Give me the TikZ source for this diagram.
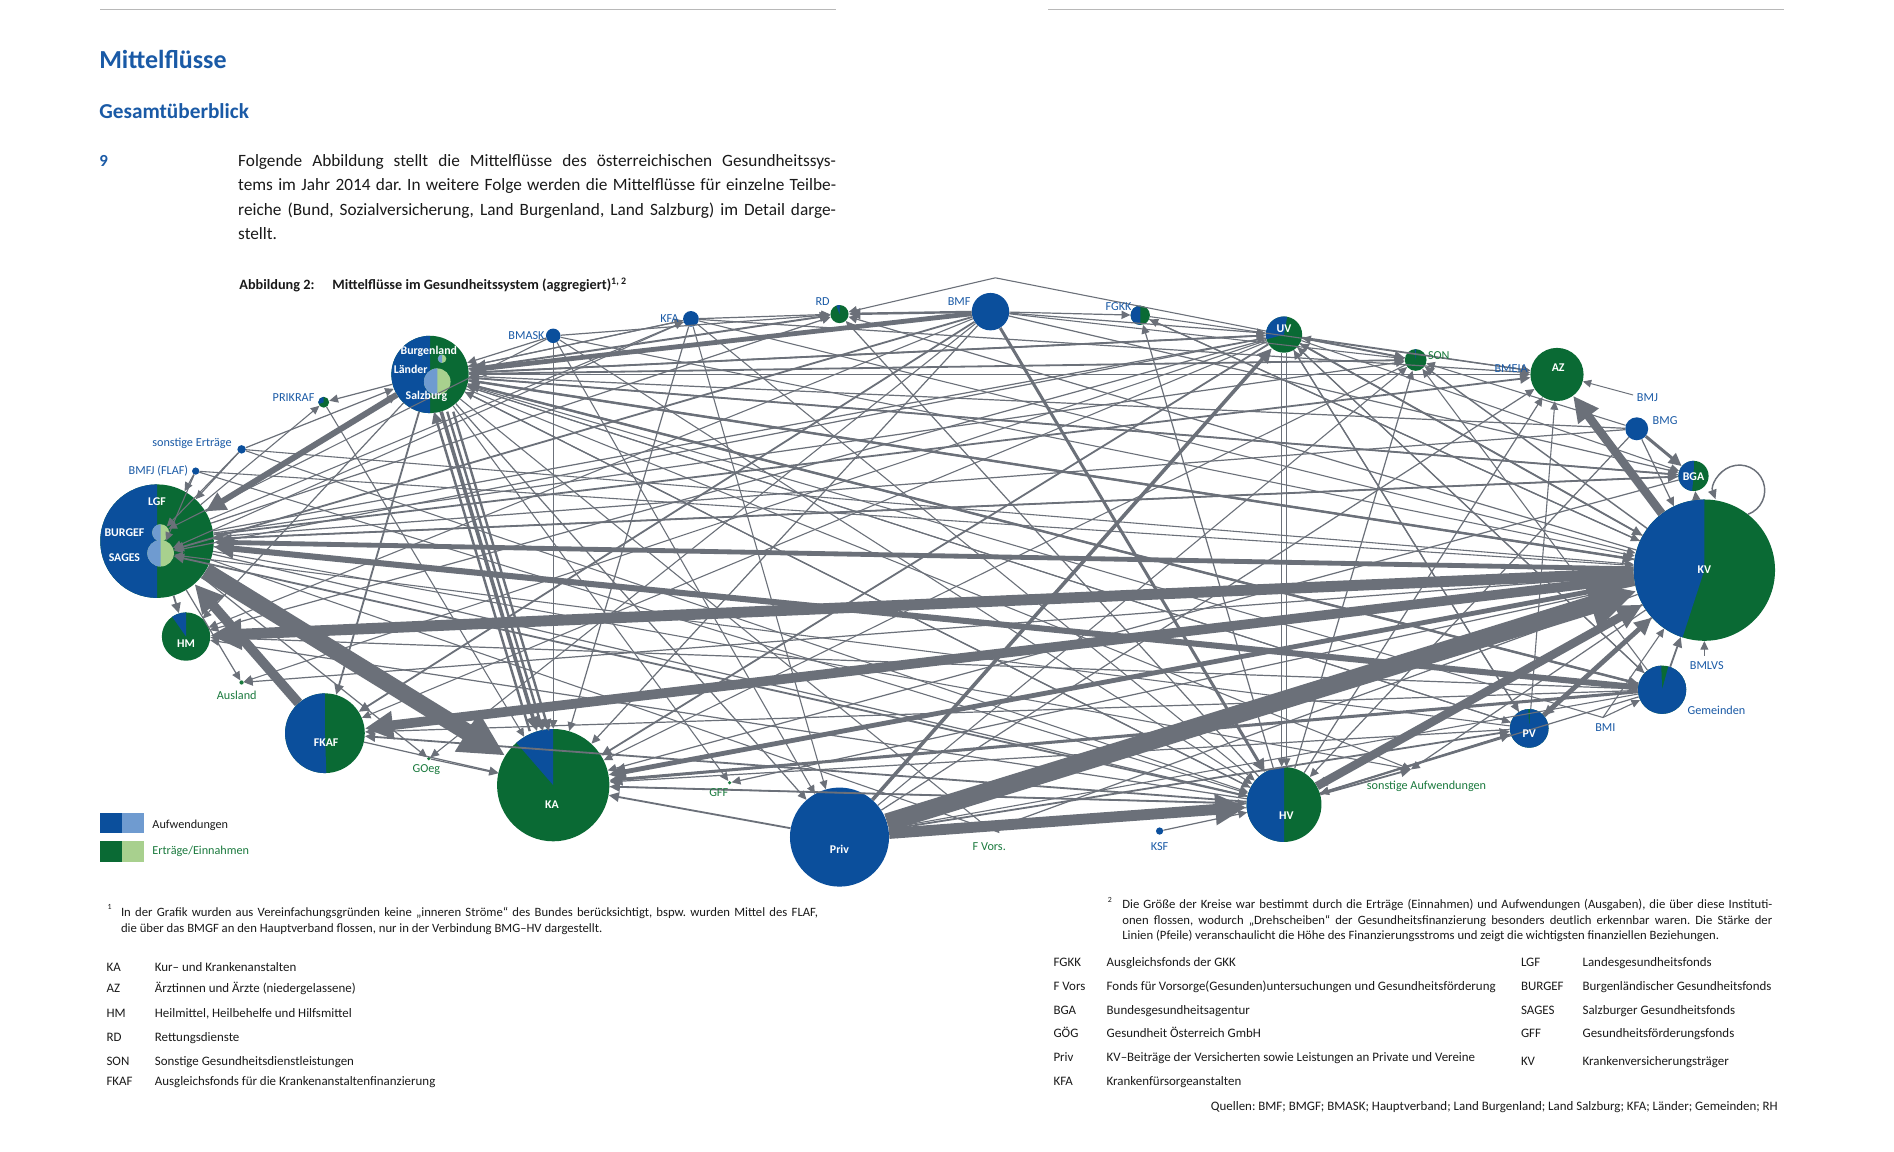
\documentclass[tikz,border=0pt]{standalone}
\usepackage{fontspec}
\setmainfont{Carlito}
\usetikzlibrary{arrows.meta}
\definecolor{bl}{HTML}{0B4F9C}
\definecolor{gn}{HTML}{0A6A34}
\definecolor{lbl}{HTML}{6F9BD0}
\definecolor{lgn}{HTML}{A8D08E}
\definecolor{eg}{HTML}{6B7079}
\definecolor{tbl}{HTML}{1A5AA6}
\definecolor{tgn}{HTML}{1B7A3E}
\definecolor{rulec}{HTML}{B8B8B8}
\definecolor{txt}{HTML}{1A1A1A}
\newcommand\myfs[2]{\fontsize{#1}{#2}\selectfont}
\tikzset{
  pie/.style n args={3}{circle, inner sep=0pt, minimum size=#1, fill=gn,
    path picture={\fill[bl] (path picture bounding box.center) -- ++(#2:#1) arc[start angle=#2, end angle=#3, radius=#1] -- cycle;}},
  lpie/.style n args={3}{circle, inner sep=0pt, minimum size=#1, fill=lgn,
    path picture={\fill[lbl] (path picture bounding box.center) -- ++(#2:#1) arc[start angle=#2, end angle=#3, radius=#1] -- cycle;}},
  bdot/.style={circle, inner sep=0pt, minimum size=#1, fill=bl},
  gdot/.style={circle, inner sep=0pt, minimum size=#1, fill=tgn},
  gfull/.style={circle, inner sep=0pt, minimum size=#1, fill=gn},
  lab/.style={inner sep=0pt, text=tbl, font=\myfs{10.1}{12}},
  glab/.style={inner sep=0pt, text=tgn, font=\myfs{10.1}{12}},
  wlab/.style={inner sep=0pt, text=white, font=\bfseries\myfs{9.8}{11}},
  fl/.style={draw=eg, line width=#1, -{Triangle[length=5pt 2.3, width=4.5pt 2.2]}},
  tx/.style={inner sep=0pt, anchor=base west, text=txt, font=\myfs{10.7}{12}},
  ftx/.style={inner sep=0pt, anchor=base west, text=txt, font=\myfs{10.5}{12}},
  para/.style={inner sep=0pt, anchor=base west, text=txt, font=\myfs{14.3}{20}}
}
\begin{document}
\frenchspacing
\begin{tikzpicture}[x=1pt,y=1pt]
\useasboundingbox (0,0) rectangle (1568,-953.7);
\fill[white] (0,0) rectangle (1568,-953.7);

% ---------- header ----------
\draw[rulec, line width=1pt] (83,-8) -- (692,-8);
\draw[rulec, line width=1pt] (868,-8) -- (1477,-8);
\node[inner sep=0pt, anchor=base west, text=tbl, font=\bfseries\myfs{21.5}{25}] at (82,-57) {Mittelflüsse};
\node[inner sep=0pt, anchor=base west, text=tbl, font=\bfseries\myfs{17.6}{21}] at (82,-98) {Gesamtüberblick};
\node[inner sep=0pt, anchor=base west, text=tbl, font=\bfseries\myfs{14}{20}] at (82,-138) {9};
\node[para] at (197,-138) {\makebox[495pt][s]{Folgende Abbildung stellt die Mittelflüsse des österreichischen Gesundheitssys-}};
\node[para] at (197,-158) {\makebox[495pt][s]{tems im Jahr 2014 dar. In weitere Folge werden die Mittelflüsse für einzelne Teilbe-}};
\node[para] at (197,-178) {\makebox[495pt][s]{reiche (Bund, Sozialversicherung, Land Burgenland, Land Salzburg) im Detail darge-}};
\node[para] at (197,-198) {stellt.};
\node[inner sep=0pt, anchor=base west, text=txt, font=\bfseries\myfs{11.8}{13}] at (198,-240) {Abbildung 2:};
\node[inner sep=0pt, anchor=base west, text=txt, font=\bfseries\myfs{11.8}{13}] at (275,-240) {Mittelflüsse im Gesundheitssystem (aggregiert)\textsuperscript{1, 2}};

% ---------- nodes ----------
\node[pie={64pt}{90}{270}] (L) at (356,-310) {};
\node[lpie={22pt}{90}{270}] (SBG) at (362,-316) {};
\node[lpie={7pt}{90}{270}] (BGL) at (366,-297) {};
\node[pie={94pt}{90}{270}] (LGF) at (130,-448) {};
\node[lpie={14pt}{90}{270}] (BUR) at (133,-441) {};
\node[lpie={22pt}{90}{270}] (SAG) at (133,-458) {};
\node[pie={40pt}{90}{125}] (HM) at (154,-527) {};
\node[pie={66pt}{90}{272}] (FKAF) at (269,-607) {};
\node[pie={93pt}{90}{131}] (KA) at (458,-650) {};
\node[bdot=82pt] (Priv) at (695,-693) {};
\node[pie={62pt}{90}{270}] (HV) at (1063,-666) {};
\node[pie={32pt}{93}{447}] (PV) at (1266,-603) {};
\node[pie={40pt}{92}{435}] (Gem) at (1376,-571) {};
\node[pie={117pt}{90}{252}] (KV) at (1411,-472) {};
\node[pie={25pt}{88}{265}] (BGA) at (1402,-394) {};
\node[bdot=19pt] (BMG) at (1355,-355) {};
\node[gfull=44pt] (AZ) at (1289,-310) {};
\node[pie={18pt}{88}{95}] (SON) at (1172,-298) {};
\node[pie={30pt}{80}{195}] (UV) at (1063,-277) {};
\node[pie={16pt}{90}{270}] (FGKK) at (944,-261) {};
\node[bdot=31pt] (BMF) at (820,-258) {};
\node[pie={15pt}{88}{110}] (RD) at (695,-260) {};
\node[bdot=13pt] (KFA) at (572,-264) {};
\node[bdot=12pt] (BMASK) at (458,-278) {};
\node[pie={9pt}{90}{200}] (PRIK) at (268,-333) {};
\node[bdot=7pt] (SE) at (200,-372) {};
\node[bdot=6pt] (BMFJ) at (162,-390) {};
\node[gdot=3.5pt] (AUS) at (200,-565) {};
\node[gdot=3pt] (GOEG) at (355,-628) {};
\node[gdot=3pt] (GFF) at (604,-648) {};
\node[bdot=6pt] (KSF) at (960,-688) {};
\coordinate (FV) at (820,-687);
\coordinate (SA) at (1168,-637);
\coordinate (BMI) at (1327,-594);
\coordinate (BMJ) at (1352,-327);
\coordinate (BMLVS) at (1411,-543);
\coordinate (TOP) at (824,-230);

% ---------- thin connectors ----------
\foreach \s/\t/\w in {
KFA/RD/1,BMASK/RD/1,L/RD/1.6,KV/RD/1,HV/RD/1,
BMF/FGKK/1,KV/FGKK/1,HV/FGKK/1,FGKK/KV/1,
L/UV/1.2,BMF/UV/1,KV/UV/1,PV/UV/1,Gem/UV/0.9,SON/UV/1,LGF/UV/1,
L/SON/1.5,LGF/SON/1,UV/SON/1.5,KV/SON/1.2,HV/SON/1,Priv/SON/0.9,BMF/SON/0.9,Gem/SON/0.9,
UV/AZ/1,L/AZ/1.5,LGF/AZ/1.5,KFA/AZ/1,FGKK/AZ/0.9,HV/AZ/1,Priv/AZ/1,PV/AZ/0.9,BMJ/AZ/0.8,
L/BGA/1.5,LGF/BGA/1.5,BMF/BGA/1,UV/BGA/0.9,
BMG/KV/1,BMG/HV/1,BMG/LGF/1,BMG/L/1,BMG/SON/0.9,
BGA/LGF/1,BGA/KA/1,BGA/L/1,
BMASK/L/1,KFA/L/1,UV/L/1.5,KV/L/1.5,Gem/L/2,HV/L/1,LGF/L/1.2,SE/L/1,PV/L/0.9,
L/PRIK/1,PRIK/KA/0.9,
L/KV/2,L/Gem/1.5,L/HV/1,L/PV/0.9,L/Priv/1,L/FKAF/1.5,L/HM/1,L/GFF/0.9,L/FV/0.9,L/SA/0.9,L/KFA/0.9,
LGF/HM/1.5,LGF/AUS/1,LGF/GOEG/1,LGF/RD/1,LGF/KFA/0.9,LGF/HV/1,LGF/SA/0.9,LGF/FV/0.9,LGF/Gem/1,LGF/PRIK/0.9,
SE/LGF/1,BMFJ/LGF/1,BMFJ/SAG/0.9,SE/BUR/0.9,BMF/SAG/1.5,UV/SAG/1,HV/SAG/1.5,PV/SAG/0.9,BMASK/BUR/0.9,KFA/SAG/0.9,
SE/KV/0.9,SE/HV/0.9,BMFJ/HV/0.9,BMFJ/KV/0.9,KFA/KV/0.9,BMASK/KV/0.9,BMASK/HV/0.9,KFA/HV/0.9,
Gem/KA/2.5,HV/KA/1.5,UV/KA/1.5,PV/KA/1,Priv/KA/1.5,FKAF/KA/1,GOEG/KA/1,KFA/KA/1,BMASK/KA/0.9,SON/KA/0.9,BMF/KA/1,KV/GFF/1,
UV/HM/1,Gem/HM/1,HV/HM/1,BMF/HM/0.9,
BMF/FKAF/1.5,HV/FKAF/1.5,UV/FKAF/0.9,Gem/FKAF/1,
KV/AUS/1,UV/AUS/0.9,BMF/GOEG/0.9,
FV/Priv/1,BMASK/Priv/0.9,KFA/Priv/0.9,Gem/Priv/0.9,
Priv/PV/1.5,
KSF/HV/1,KV/HV/1.5,PV/HV/1,Gem/HV/1,HV/SA/1.5,HV/PV/1.5,HV/FV/0.9,KA/HV/0.9,
Gem/KV/1.5,BMLVS/KV/0.9,BMI/KV/0.9,BMI/Gem/0.9,BMI/L/0.9,KV/SA/1,KV/FV/1,KV/BGA/1,UV/KV/1.5,KV/PV/1.5,UV/PV/1,UV/Gem/1}
{\draw[fl=\w pt] (\s) -- (\t);}
\draw[fl=0.9pt] (UV) -- (TOP) -- (RD);
\draw[fl=0.9pt, transform canvas={xshift=-2pt}] (UV) -- (HV);
\draw[fl=0.9pt, transform canvas={xshift=2pt}] (UV) -- (HV);
\draw[fl=1.2pt] (KV.52) arc[start angle=-70, end angle=200, radius=21pt];

% ---------- thick connectors ----------
\draw[fl=2pt, transform canvas={xshift=-6pt}] (KA) -- (L);
\draw[fl=2pt, transform canvas={xshift=5pt}] (L) -- (KA);
\draw[fl=2pt, transform canvas={xshift=10pt}] (L) -- (KA);
\foreach \s/\t/\w in {
Priv/UV/3,BMF/HV/2.5,BMF/L/4,BMF/RD/2,BMG/BGA/2.5,L/KA/3,PV/KV/4,KV/KA/4,KV/LGF/4,Gem/LGF/5,L/LGF/5,
HV/KV/7,KV/AZ/7,FKAF/LGF/8,KV/FKAF/8,KV/HM/9,Priv/HV/9,LGF/KA/14,Priv/KV/15}
{\draw[fl=\w pt] (\s) -- (\t);}

% ---------- labels in circles ----------
\node[wlab] at (355,-291) {Burgenland};
\node[wlab] at (340,-306) {Länder};
\node[wlab] at (353,-328) {Salzburg};
\node[wlab] at (130,-415) {LGF};
\node[wlab] at (103,-441) {BURGEF};
\node[wlab] at (103,-462) {SAGES};
\node[wlab] at (154,-533) {HM};
\node[wlab] at (270,-615) {FKAF};
\node[wlab] at (457,-666) {KA};
\node[wlab] at (695,-703) {Priv};
\node[wlab] at (1065,-675) {HV};
\node[wlab] at (1266,-607) {PV};
\node[wlab] at (1411,-472) {KV};
\node[wlab] at (1402,-395) {BGA};
\node[wlab] at (1290,-304) {AZ};
\node[wlab] at (1063,-272) {UV};

% ---------- outside labels ----------
\node[lab, anchor=east] at (451,-278) {BMASK};
\node[lab, anchor=east] at (562,-264) {KFA};
\node[lab] at (681,-250) {RD};
\node[lab] at (794,-250) {BMF};
\node[lab] at (926,-254) {FGKK};
\node[glab, anchor=west] at (1182,-294) {SON};
\node[lab] at (1251,-305) {BMEIA};
\node[lab, anchor=west] at (1355,-329) {BMJ};
\node[lab, anchor=west] at (1368,-348) {BMG};
\node[lab] at (1413,-551) {BMLVS};
\node[lab] at (1421,-588) {Gemeinden};
\node[lab] at (1329,-602) {BMI};
\node[glab] at (1181,-651) {sonstige Aufwendungen};
\node[lab] at (960,-701) {KSF};
\node[glab] at (819,-701) {F Vors.};
\node[glab] at (595,-656) {GFF};
\node[glab] at (353,-637) {GOeg};
\node[glab] at (196,-576) {Ausland};
\node[lab, anchor=east] at (156,-390) {BMFJ (FLAF)};
\node[lab, anchor=east] at (192,-367) {sonstige Erträge};
\node[lab] at (243,-329) {PRIKRAF};

% ---------- legend ----------
\fill[bl] (83,-673) rectangle (101,-690);
\fill[lbl] (101,-673) rectangle (119,-690);
\fill[gn] (83,-696) rectangle (101,-714);
\fill[lgn] (101,-696) rectangle (119,-714);
\node[inner sep=0pt, anchor=west, text=txt, font=\myfs{10.1}{12}] at (126,-683) {Aufwendungen};
\node[inner sep=0pt, anchor=west, text=tgn, font=\myfs{10.1}{12}] at (126,-705) {Erträge/Einnahmen};

% ---------- footnotes ----------
\node[ftx, font=\myfs{6.5}{7}] at (89,-753) {1};
\node[ftx] at (100,-759) {\makebox[577pt][s]{In der Grafik wurden aus Vereinfachungsgründen keine „inneren Ströme“ des Bundes berücksichtigt, bspw. wurden Mittel des FLAF,}};
\node[ftx] at (100,-772) {die über das BMGF an den Hauptverband flossen, nur in der Verbindung BMG–HV dargestellt.};
\node[ftx, font=\myfs{6.5}{7}] at (917,-747) {2};
\node[ftx] at (929,-752) {\makebox[538pt][s]{Die Größe der Kreise war bestimmt durch die Erträge (Einnahmen) und Aufwendungen (Ausgaben), die über diese Instituti-}};
\node[ftx] at (929,-765) {\makebox[538pt][s]{onen flossen, wodurch „Drehscheiben“ der Gesundheitsfinanzierung besonders deutlich erkennbar waren. Die Stärke der}};
\node[ftx] at (929,-778) {Linien (Pfeile) veranschaulicht die Höhe des Finanzierungsstroms und zeigt die wichtigsten finanziellen Beziehungen.};

\foreach \y/\a/\d in {804/KA/Kur– und Krankenanstalten, 822/AZ/Ärztinnen und Ärzte (niedergelassene), 842/HM/{Heilmittel, Heilbehelfe und Hilfsmittel}, 862/RD/Rettungsdienste, 882/SON/Sonstige Gesundheitsdienstleistungen, 899/FKAF/Ausgleichsfonds für die Krankenanstaltenfinanzierung}
{\node[tx] at (88,-\y) {\a}; \node[tx] at (128,-\y) {\d};}
\foreach \y/\a/\d in {800/FGKK/Ausgleichsfonds der GKK, 820/F Vors/Fonds für Vorsorge(Gesunden)untersuchungen und Gesundheitsförderung, 840/BGA/Bundesgesundheitsagentur, 859/GÖG/Gesundheit Österreich GmbH, 879/Priv/KV–Beiträge der Versicherten sowie Leistungen an Private und Vereine, 899/KFA/Krankenfürsorgeanstalten}
{\node[tx] at (872,-\y) {\a}; \node[tx] at (916,-\y) {\d};}
\foreach \y/\a/\d in {800/LGF/Landesgesundheitsfonds, 820/BURGEF/Burgenländischer Gesundheitsfonds, 840/SAGES/Salzburger Gesundheitsfonds, 859/GFF/Gesundheitsförderungsfonds, 882/KV/Krankenversicherungsträger}
{\node[tx] at (1259,-\y) {\a}; \node[tx] at (1310,-\y) {\d};}
\node[tx, anchor=base east] at (1472,-919) {Quellen: BMF; BMGF; BMASK; Hauptverband; Land Burgenland; Land Salzburg; KFA; Länder; Gemeinden; RH};
\end{tikzpicture}
\end{document}
